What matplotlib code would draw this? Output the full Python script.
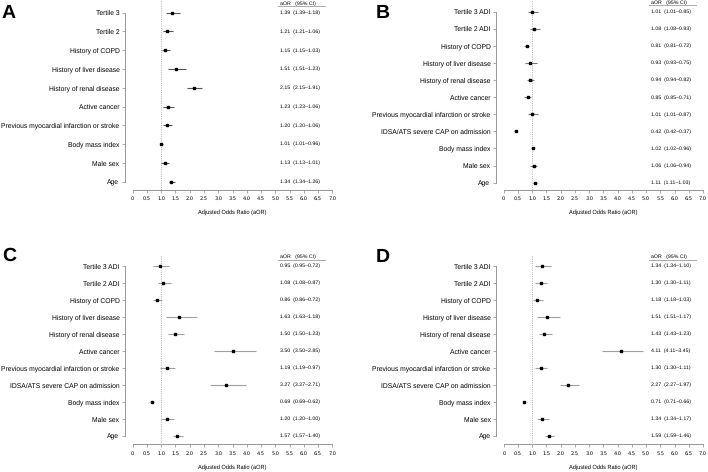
import matplotlib
matplotlib.use("Agg")
import matplotlib.pyplot as plt

plt.rcParams['font.family'] = ['Liberation Sans', 'DejaVu Sans']
plt.rcParams['text.hinting'] = 'no_hinting'

# ---- data (rows listed top to bottom) ----
labels_a = ["Tertile 3", "Tertile 2", "History of COPD", "History of liver disease",
            "History of renal disease", "Active cancer",
            "Previous myocardial infarction or stroke", "Body mass index", "Male sex", "Age"]
labels_bcd = ["Tertile 3 ADI", "Tertile 2 ADI", "History of COPD", "History of liver disease",
              "History of renal disease", "Active cancer",
              "Previous myocardial infarction or stroke", "IDSA/ATS severe CAP on admission",
              "Body mass index", "Male sex", "Age"]

aor_a = [1.39, 1.21, 1.15, 1.51, 2.15, 1.23, 1.20, 1.01, 1.13, 1.34]
lo_a = [1.18, 1.06, 1.03, 1.23, 1.91, 1.06, 1.06, 0.96, 1.01, 1.26]
hi_a = [1.66, 1.40, 1.31, 1.86, 2.44, 1.45, 1.39, 1.05, 1.28, 1.48]

aor_b = [1.01, 1.08, 0.81, 0.93, 0.94, 0.85, 1.01, 0.42, 1.02, 1.06, 1.11]
lo_b = [0.85, 0.93, 0.72, 0.75, 0.82, 0.71, 0.87, 0.37, 0.96, 0.94, 1.03]
hi_b = [1.21, 1.27, 0.90, 1.16, 1.05, 0.95, 1.21, 0.46, 1.06, 1.18, 1.16]

aor_c = [0.95, 1.08, 0.86, 1.63, 1.50, 3.50, 1.19, 3.27, 0.69, 1.20, 1.57]
lo_c = [0.72, 0.87, 0.72, 1.18, 1.23, 2.85, 0.97, 2.71, 0.62, 1.00, 1.40]
hi_c = [1.27, 1.33, 1.04, 2.27, 1.81, 4.32, 1.48, 3.98, 0.76, 1.45, 1.78]

aor_d = [1.34, 1.30, 1.18, 1.51, 1.43, 4.11, 1.30, 2.27, 0.71, 1.34, 1.59]
lo_d = [1.10, 1.11, 1.03, 1.17, 1.23, 3.45, 1.11, 1.97, 0.66, 1.17, 1.46]
hi_d = [1.65, 1.53, 1.37, 1.97, 1.68, 4.89, 1.53, 2.64, 0.75, 1.58, 1.76]

xticks = [0, 0.5, 1.0, 1.5, 2.0, 2.5, 3.0, 3.5, 4.0, 4.5, 5.0, 5.5, 6.0, 6.5, 7.0]
xticklabels = ["0"] + [f"{t:.1f}" for t in xticks[1:]]

W, H = 708, 472
fig = plt.figure(figsize=(W / 100, H / 100), dpi=100)

# panel geometry in pixels: x of 0, x of 7, first row y, last row y, x-axis y, panel letter pos
panels = [
    ("A", labels_a, aor_a, lo_a, hi_a, 132.7, 332.3, 12.7, 181.7, 190.0, (2, 4), '#555555'),
    ("B", labels_bcd, aor_b, lo_b, hi_b, 503.7, 703.0, 11.7, 182.7, 190.0, (376, 4), '#777777'),
    ("C", labels_bcd, aor_c, lo_c, hi_c, 132.7, 332.3, 266.0, 436.0, 444.3, (2, 247), '#a0a0a0'),
    ("D", labels_bcd, aor_d, lo_d, hi_d, 503.8, 703.0, 266.0, 436.0, 444.3, (376, 248), '#a0a0a0'),
]

for letter, labels, aor, lo, hi, x0, x7, top, last, axy, lpos, ci_col in panels:
    n = len(labels)
    spacing = (last - top) / (n - 1)
    ax = fig.add_axes([x0 / W, 1 - axy / H, (x7 - x0) / W, (axy - top) / H])
    ax.set_xlim(0, 7)
    ybot = (n - 1) + (axy - last) / spacing
    ax.set_ylim(ybot, 0)
    rows = list(range(n))

    # reference line at OR = 1
    ax.plot([1, 1], [-0.6, ybot], color='#999999', lw=0.6, ls=':', clip_on=False)

    # confidence intervals and point estimates
    ax.hlines(rows, lo, hi, color=ci_col, lw=0.8, clip_on=False)
    ax.plot(aor, rows, 's', color='black', ms=1.5, clip_on=False)

    # table of values
    hdr_y = -9.5 / spacing
    rule_y = -6.3 / spacing
    ax.text(5.17, hdr_y, "aOR   (95% CI)", fontsize=3.8, ha='left', va='center')
    ax.plot([5.09, 6.75], [rule_y, rule_y], color='#aaaaaa', lw=0.7, clip_on=False)
    for i in rows:
        ax.text(5.17, i, f"{aor[i]:.2f}  ({aor[i]:.2f}\u2013{lo[i]:.2f})", fontsize=3.8,
                ha='left', va='center')

    # R-style detached axes
    for s in ['top', 'right']:
        ax.spines[s].set_visible(False)
    ax.spines['left'].set_position(('outward', 7.7 * 0.72))
    ax.spines['left'].set_bounds(0, n - 1)
    ax.spines['bottom'].set_bounds(0, 7)
    for s in ['left', 'bottom']:
        ax.spines[s].set_color('#888888')
        ax.spines[s].set_linewidth(0.6)
    ax.set_yticks(rows)
    ax.set_yticklabels(labels, fontsize=4.9)
    ax.set_xticks(xticks)
    ax.set_xticklabels(xticklabels, fontsize=3.6, family=['DejaVu Sans'])
    ax.tick_params(axis='both', length=2.2, width=0.5, color='#888888', pad=1.8)
    ax.tick_params(axis='x', pad=2.5)
    ax.set_xlabel("Adjusted Odds Ratio (aOR)", fontsize=4.1, labelpad=6)

    fig.text(lpos[0] / W, 1 - lpos[1] / H, letter, fontsize=14, fontweight='bold',
             ha='left', va='top')

fig.savefig("out.png", dpi=100)
